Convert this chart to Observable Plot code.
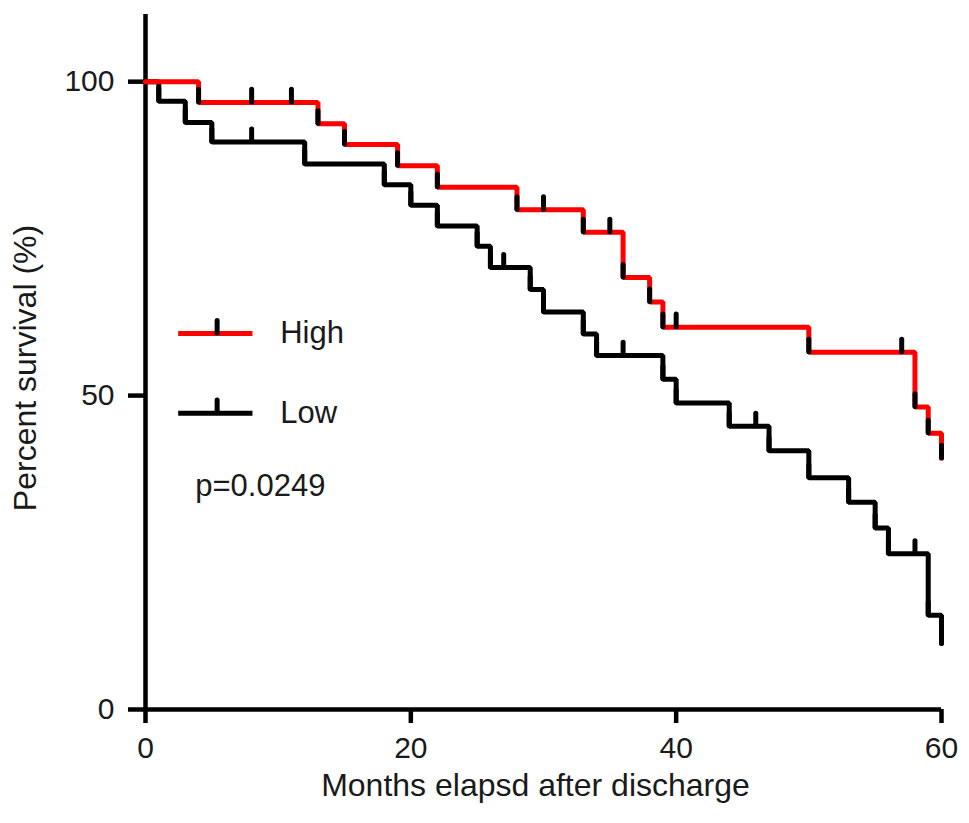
<!DOCTYPE html>
<html>
<head>
<meta charset="utf-8">
<script src="https://cdn.jsdelivr.net/npm/d3@7"></script>
<script src="https://cdn.jsdelivr.net/npm/@observablehq/plot@0.6"></script>
<style>
  body { margin: 0; background: white; }
</style>
</head>
<body>
<div id="chart"></div>
<script>
// High group: event times (months) and survival (%) after each drop
const highTime = [0, 4, 13, 15, 19, 22, 28, 33, 36, 38, 39, 50, 58, 59, 60]
const highSurv = [100, 96.7, 93.3, 90.0, 86.6, 83.2, 79.6, 76.0, 68.8, 64.9, 60.9, 56.9, 48.2, 44.0, 40.0]
const highCensorTime = [8, 11, 30, 35, 40, 57]
const highCensorSurv = [96.7, 96.7, 79.6, 76.0, 60.9, 56.9]

// Low group
const lowTime = [0, 1, 3, 5, 12, 18, 20, 22, 25, 26, 29, 30, 33, 34, 39, 40, 44, 47, 50, 53, 55, 56, 59, 60]
const lowSurv = [100, 96.9, 93.5, 90.4, 86.9, 83.6, 80.3, 77.0, 73.8, 70.4, 66.9, 63.3, 59.8, 56.4, 52.6, 48.8, 45.1, 41.2, 36.9, 33.0, 28.9, 24.8, 15.0, 10.5]
const lowCensorTime = [8, 27, 36, 46, 58]
const lowCensorSurv = [90.4, 70.4, 56.4, 45.1, 24.8]

const xTicks = [0, 20, 40, 60]
const yTicks = [0, 50, 100]
const groups = ["High", "Low"]
const pValue = "p=0.0249"

const zip = (t, s) => t.map((d, i) => ({t: d, s: s[i]}))
const high = zip(highTime, highSurv)
const low = zip(lowTime, lowSurv)
// tick marks: at every drop and every censored point
const marksHigh = zip(highTime, highSurv).slice(1).concat(zip(highCensorTime, highCensorSurv))
const marksLow = zip(lowTime, lowSurv).slice(1).concat(zip(lowCensorTime, lowCensorSurv))
const tickLen = 2.0

const font = "Liberation Sans, Arial, Helvetica, sans-serif"

let chart = Plot.plot({
  width: 969,
  height: 823,
  marginLeft: 145,
  marginRight: 28,
  marginTop: 14,
  marginBottom: 114,
  x: {domain: [0, 60]},
  y: {domain: [0, 110.7]},
  style: {fontFamily: font, color: "#1a1a1a", background: "white"},
  marks: [
    Plot.axisX({ticks: xTicks, tickSize: 14, tickPadding: 13, strokeWidth: 4.5, stroke: "black", fontSize: 30, label: null}),
    Plot.axisY({ticks: yTicks, tickSize: 17, tickPadding: 14, strokeWidth: 4.5, stroke: "black", fontSize: 30, label: null}),
    Plot.ruleX([0], {strokeWidth: 4.5, stroke: "black"}),
    Plot.ruleY([0], {strokeWidth: 4.5, stroke: "black"}),
    Plot.line(low, {x: "t", y: "s", curve: "step-after", stroke: "black", strokeWidth: 5, strokeLinejoin: "miter"}),
    Plot.line(high, {x: "t", y: "s", curve: "step-after", stroke: "#ff0000", strokeWidth: 5, strokeLinejoin: "miter"}),
    Plot.ruleX(marksLow, {x: "t", y1: "s", y2: d => d.s + tickLen, stroke: "black", strokeWidth: 5, strokeLinecap: "round"}),
    Plot.ruleX(marksHigh, {x: "t", y1: "s", y2: d => d.s + tickLen, stroke: "black", strokeWidth: 5, strokeLinecap: "round"}),
    // legend
    Plot.ruleY([59.9], {x1: 2.5, x2: 8.1, stroke: "#ff0000", strokeWidth: 5}),
    Plot.ruleX([5.4], {y1: 59.9, y2: 59.9 + tickLen, stroke: "black", strokeWidth: 5, strokeLinecap: "round"}),
    Plot.ruleY([47.2], {x1: 2.5, x2: 8.1, stroke: "black", strokeWidth: 5}),
    Plot.ruleX([5.4], {y1: 47.2, y2: 47.2 + tickLen, stroke: "black", strokeWidth: 5, strokeLinecap: "round"}),
    Plot.text([groups[0]], {x: 10.15, y: 59.9, textAnchor: "start", fontSize: 31}),
    Plot.text([groups[1]], {x: 10.15, y: 47.2, textAnchor: "start", fontSize: 31}),
    Plot.text([pValue], {x: 3.75, y: 35.6, textAnchor: "start", fontSize: 31}),
    // axis titles
    Plot.text(["Months elapsd after discharge"], {frameAnchor: "bottom", dx: -8, dy: 86, fontSize: 32}),
    Plot.text(["Percent survival (%)"], {frameAnchor: "left", textAnchor: "middle", rotate: -90, dx: -120, dy: 6, fontSize: 32})
  ]
})

d3.select('#chart').append(() => chart)
</script>
</body>
</html>
